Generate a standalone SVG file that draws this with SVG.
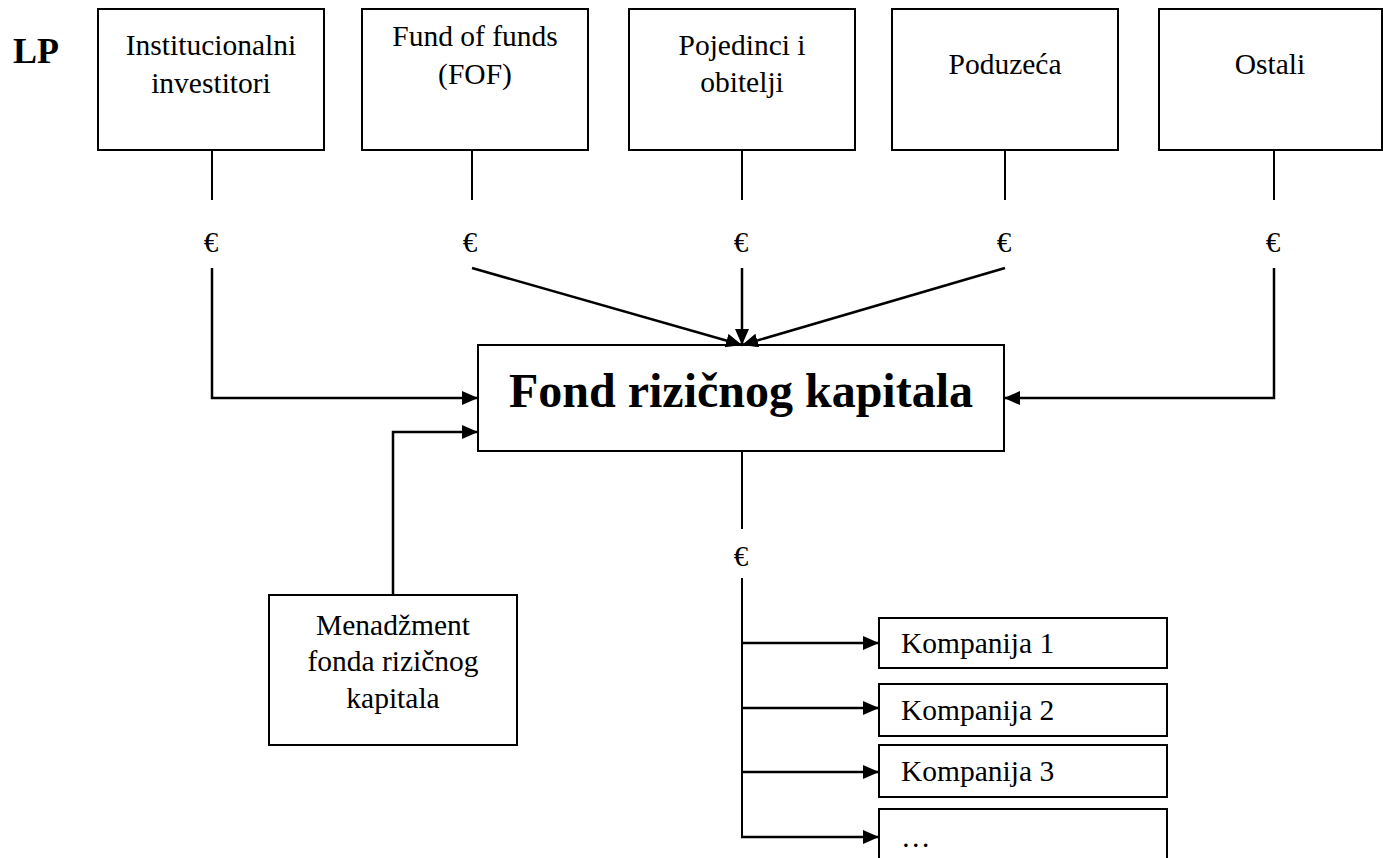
<svg xmlns="http://www.w3.org/2000/svg" width="1383" height="858" viewBox="0 0 1383 858">
<defs>
<style>
.box{fill:#fff;stroke:#000;stroke-width:2}
.t{font-family:"Liberation Serif","Times New Roman",serif;font-size:29.5px;fill:#000;text-anchor:middle}
.tl{font-family:"Liberation Serif","Times New Roman",serif;font-size:29.5px;fill:#000}
.eur{font-family:"Liberation Serif","Times New Roman",serif;font-size:29px;fill:#000;text-anchor:middle}
.c{fill:none;stroke:#000;stroke-width:2}
.ca{fill:none;stroke:#000;stroke-width:2.5;marker-end:url(#ah)}
</style>
<marker id="ah" markerUnits="userSpaceOnUse" markerWidth="20" markerHeight="16" refX="16" refY="7" orient="auto">
<path d="M0,0 L16,7 L0,14 Z" fill="#000"/>
</marker>
</defs>
<rect width="1383" height="858" fill="#fff"/>
<text x="13" y="63" font-family="'Liberation Serif','Times New Roman',serif" font-size="36" font-weight="bold">LP</text>
<g id="n-institucionalni"><rect class="box" x="98" y="9" width="226" height="141"/><text class="t" x="211" y="55">Institucionalni</text><text class="t" x="211" y="93">investitori</text></g>
<g id="n-fof"><rect class="box" x="362" y="9" width="226" height="141"/><text class="t" x="475" y="46">Fund of funds</text><text class="t" x="475" y="84">(FOF)</text></g>
<g id="n-pojedinci"><rect class="box" x="629" y="9" width="226" height="141"/><text class="t" x="742" y="55">Pojedinci i</text><text class="t" x="742" y="92">obitelji</text></g>
<g id="n-poduzeca"><rect class="box" x="892" y="9" width="226" height="141"/><text class="t" x="1005" y="74">Poduzeća</text></g>
<g id="n-ostali"><rect class="box" x="1159" y="9" width="223" height="141"/><text class="t" x="1270" y="74">Ostali</text></g>
<g id="n-fond"><rect class="box" x="478" y="345" width="526" height="106"/><text x="741" y="407" font-family="'Liberation Serif','Times New Roman',serif" font-size="48" font-weight="bold" text-anchor="middle">Fond rizičnog kapitala</text></g>
<g id="n-menadzment"><rect class="box" x="269" y="595" width="248" height="150"/><text class="t" x="393" y="635">Menadžment</text><text class="t" x="393" y="671">fonda rizičnog</text><text class="t" x="393" y="708">kapitala</text></g>
<g id="n-k1"><rect class="box" x="879" y="618" width="288" height="50"/><text class="tl" x="901" y="653">Kompanija 1</text></g>
<g id="n-k2"><rect class="box" x="879" y="684" width="288" height="52"/><text class="tl" x="901" y="720">Kompanija 2</text></g>
<g id="n-k3"><rect class="box" x="879" y="745" width="288" height="52"/><text class="tl" x="901" y="781">Kompanija 3</text></g>
<g id="n-k4"><rect class="box" x="879" y="809" width="288" height="60"/><text class="tl" x="901" y="847">…</text></g>
<g id="connectors">
<line class="c" x1="212" y1="150" x2="212" y2="200"/>
<line class="c" x1="472" y1="150" x2="472" y2="200"/>
<line class="c" x1="742" y1="150" x2="742" y2="200"/>
<line class="c" x1="1005" y1="150" x2="1005" y2="200"/>
<line class="c" x1="1274" y1="150" x2="1274" y2="200"/>
<text class="eur" x="211" y="252">€</text>
<text class="eur" x="470" y="252">€</text>
<text class="eur" x="741" y="252">€</text>
<text class="eur" x="1004" y="252">€</text>
<text class="eur" x="1273" y="252">€</text>
<polyline class="ca" points="212,268 212,398 478,398"/>
<polyline class="ca" points="1274,268 1274,398 1004,398"/>
<line class="ca" x1="472" y1="268" x2="742" y2="345"/>
<line class="ca" x1="742" y1="268" x2="742" y2="345"/>
<line class="ca" x1="1005" y1="268" x2="742" y2="345"/>
<polyline class="ca" points="393,595 393,432 478,432"/>
<line class="c" x1="742" y1="451" x2="742" y2="529"/>
<text class="eur" x="741" y="566">€</text>
<line class="c" x1="742" y1="578" x2="742" y2="838"/>
<line class="ca" x1="741" y1="643" x2="879" y2="643"/>
<line class="ca" x1="741" y1="708" x2="879" y2="708"/>
<line class="ca" x1="741" y1="772" x2="879" y2="772"/>
<line class="ca" x1="741" y1="837" x2="879" y2="837"/>
</g>
</svg>
